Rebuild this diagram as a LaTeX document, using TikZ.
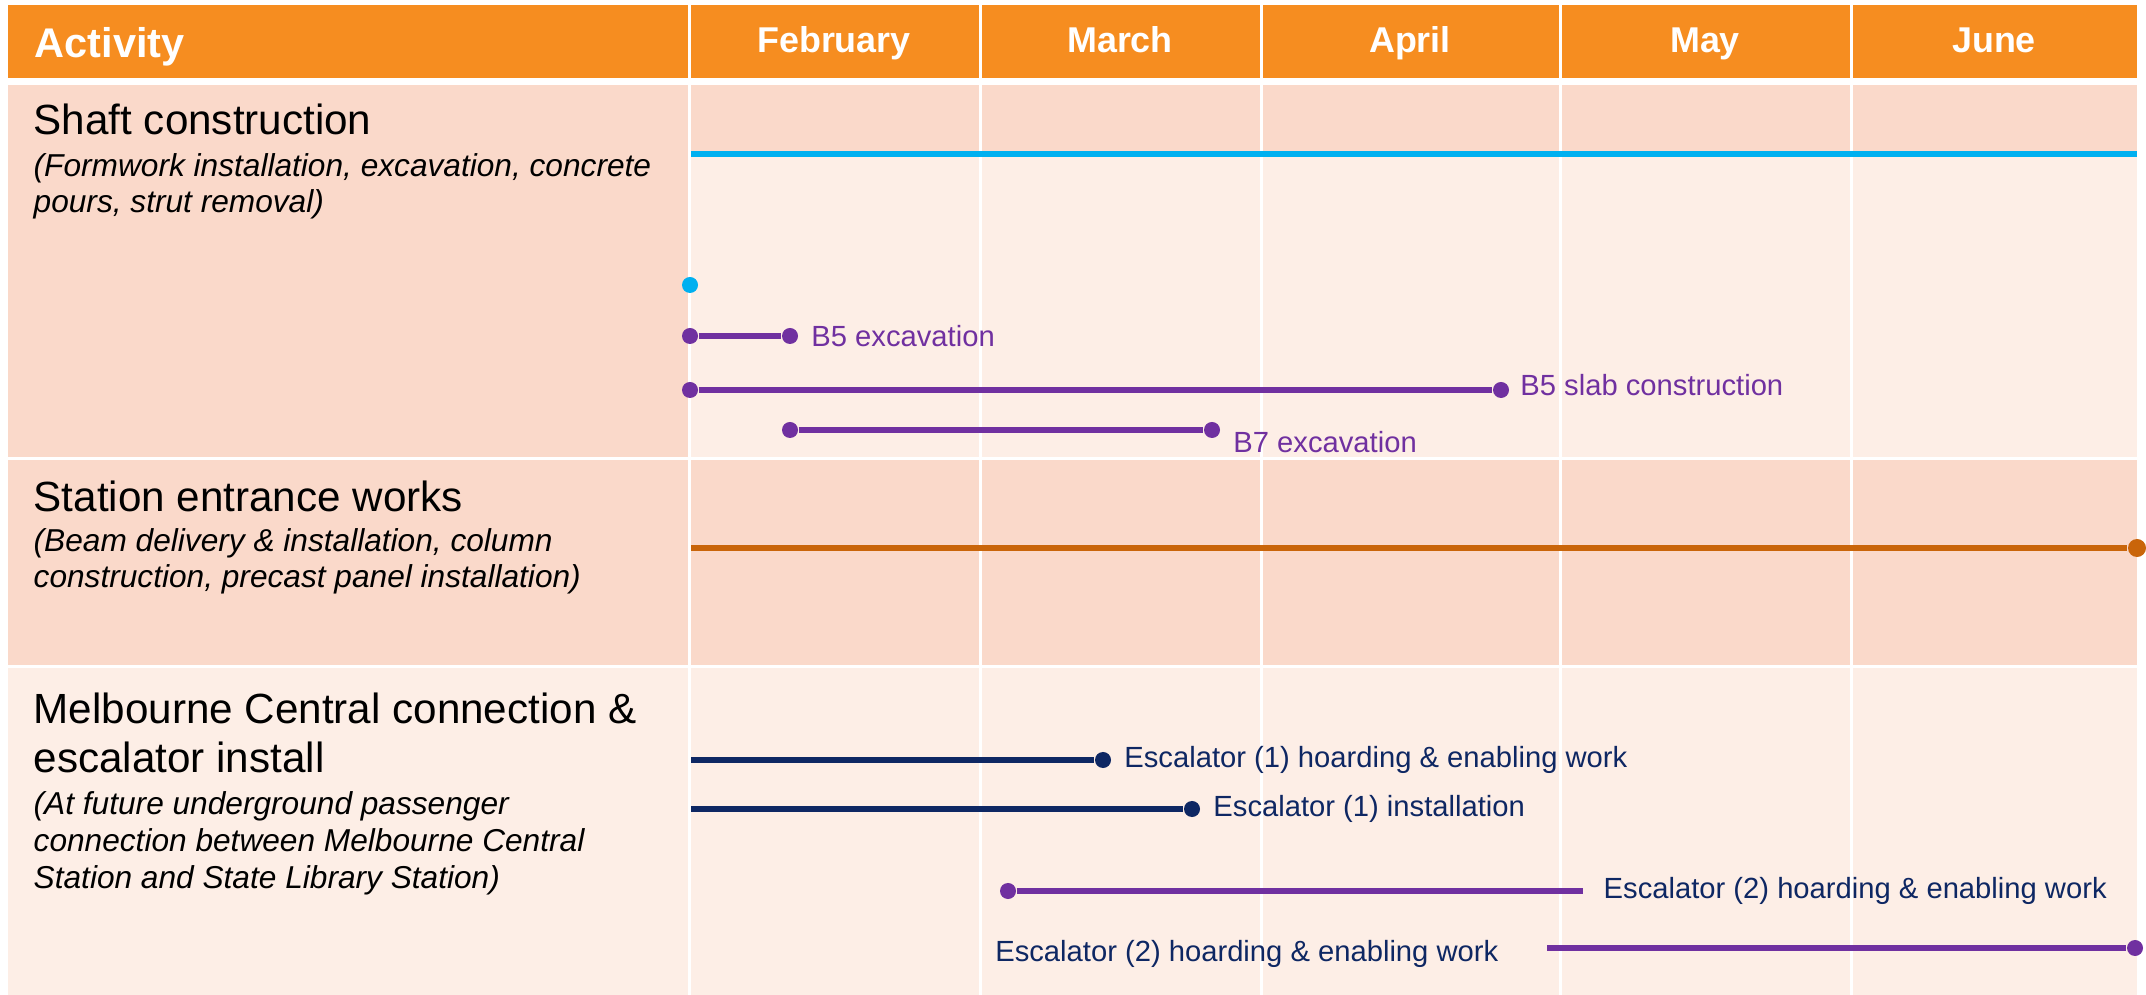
\documentclass[tikz,border=0pt]{standalone}
\usepackage{fontspec}
\setmainfont{Liberation Sans}
\usetikzlibrary{positioning}
\definecolor{hdorange}{HTML}{F68D20}
\definecolor{rowdark}{HTML}{FAD9CA}
\definecolor{rowlight}{HTML}{FDEEE6}
\definecolor{barblue}{HTML}{00B0F0}
\definecolor{barpurple}{HTML}{7030A0}
\definecolor{barbrown}{HTML}{C9650A}
\definecolor{barnavy}{HTML}{0E2763}

\begin{document}
\begin{tikzpicture}[x=0.01cm,y=-0.01cm,
  head/.style={anchor=base,text=white,inner sep=0,font=\fontsize{10.2}{12}\selectfont\bfseries},
  title/.style={anchor=base west,inner sep=0,align=left,font=\fontsize{12}{13.9}\selectfont},
  sub/.style={anchor=base west,inner sep=0,align=left,font=\fontsize{9}{10.5}\selectfont\itshape},
  lbl/.style={inner sep=0,font=\fontsize{8.3}{10}\selectfont},
  dot/.style={circle,fill,inner sep=0,minimum size=0.16cm},
  bar/.style={line width=0.055cm},
  grid/.style={white,line width=0.03cm}]
\useasboundingbox[fill=white] (0,0) rectangle (2146,995);

% header and row backgrounds
\fill[hdorange] (8,5) rectangle (2137,78);
\fill[rowdark] (8,85) rectangle (688,457);
\fill[rowdark] (688,85) rectangle (2137,153);
\fill[rowlight] (688,157) rectangle (2137,457);
\fill[rowdark] (8,460) rectangle (2137,665);
\fill[rowlight] (8,668) rectangle (2137,995);
\foreach \gx in {689,980,1261,1560,1851}
  \draw[grid] (\gx,5) -- (\gx,995);

\node[head,anchor=base west,font=\fontsize{11.8}{14}\selectfont\bfseries] (act) at (34,58) {Activity};
\foreach \m/\mx in {February/834,March/1120,April/1410,May/1705,June/1994}
  \node[head] (m-\m) at (\mx,53) {\m};

% activities (multi-line nodes sit on their last baseline)
\node[title] (shaft) at (33,135) {Shaft construction};
\node[sub] (shaft-sub) at (33,213) {(Formwork installation, excavation, concrete\\pours, strut removal)};
\node[title] (entr) at (33,512) {Station entrance works};
\node[sub] (entr-sub) at (33,588) {(Beam delivery \& installation, column\\construction, precast panel installation)};
\node[title] (mcc) at (33,772) {Melbourne Central connection \&\\escalator install};
\node[sub] (mcc-sub) at (33,888) {(At future underground passenger\\connection between Melbourne Central\\Station and State Library Station)};

% shaft construction
\coordinate (sc-a) at (691,154);
\coordinate (sc-b) at (2137,154);
\draw[barblue,line width=0.06cm] (sc-a) -- (sc-b);
\node[dot,barblue] (sc-m) at (690,285) {};

\node[dot,barpurple] (b5x-a) at (690,336) {};
\node[dot,barpurple] (b5x-b) at (790,336) {};
\draw[bar,barpurple] (b5x-a) -- (b5x-b);
\node[lbl,barpurple,right=0.12cm of b5x-b] (b5x) {B5 excavation};

\node[dot,barpurple] (b5s-a) at (690,390) {};
\node[dot,barpurple] (b5s-b) at (1501,390) {};
\draw[bar,barpurple] (b5s-a) -- (b5s-b);
\node[lbl,barpurple,right=0.1cm of b5s-b,yshift=0.05cm] (b5s) {B5 slab construction};

\node[dot,barpurple] (b7x-a) at (790,430) {};
\node[dot,barpurple] (b7x-b) at (1212,430) {};
\draw[bar,barpurple] (b7x-a) -- (b7x-b);
\node[lbl,barpurple,right=0.12cm of b7x-b,yshift=-0.12cm] (b7x) {B7 excavation};

% station entrance
\coordinate (se-a) at (691,548);
\node[dot,barbrown,minimum size=0.18cm] (se-b) at (2137,548) {};
\draw[barbrown,line width=0.06cm] (se-a) -- (se-b);

% melbourne central
\coordinate (e1h-a) at (691,760);
\node[dot,barnavy] (e1h-b) at (1103,760) {};
\draw[barnavy,line width=0.06cm] (e1h-a) -- (e1h-b);
\node[lbl,barnavy,right=0.12cm of e1h-b] (e1h) {Escalator (1) hoarding \& enabling work};

\coordinate (e1i-a) at (691,809);
\node[dot,barnavy] (e1i-b) at (1192,809) {};
\draw[barnavy,line width=0.06cm] (e1i-a) -- (e1i-b);
\node[lbl,barnavy,right=0.12cm of e1i-b] (e1i) {Escalator (1) installation};

\node[dot,barpurple] (e2h-a) at (1008,891) {};
\coordinate (e2h-b) at (1583,891);
\draw[bar,barpurple] (e2h-a) -- (e2h-b);
\node[lbl,barnavy,right=0.2cm of e2h-b] (e2h) {Escalator (2) hoarding \& enabling work};

\coordinate (e2w-a) at (1547,948);
\node[dot,barpurple] (e2w-b) at (2135,948) {};
\draw[bar,barpurple] (e2w-a) -- (e2w-b);
\node[lbl,barnavy,left=0.48cm of e2w-a,yshift=-0.06cm] (e2w) {Escalator (2) hoarding \& enabling work};
\end{tikzpicture}
\end{document}
